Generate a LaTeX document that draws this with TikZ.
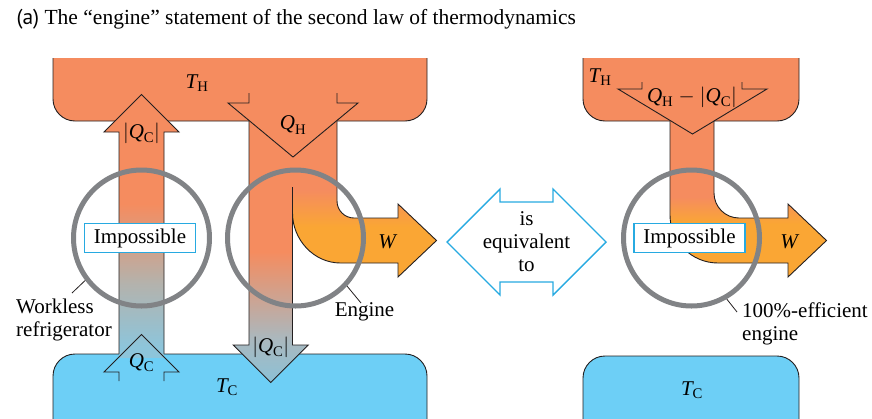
\documentclass[tikz,border=0pt]{standalone}
\usepackage{amsmath}
\usepackage{fontspec}
\setmainfont{Liberation Serif}
\newfontfamily\panelfont{PT Sans}
\usetikzlibrary{positioning}
\definecolor{HotRes}{HTML}{F58C5F}
\definecolor{ColdRes}{HTML}{6DCFF6}
\definecolor{WorkFlow}{HTML}{FAA634}
\definecolor{RingGray}{HTML}{818386}
\definecolor{TagCyan}{HTML}{27AAE1}
\definecolor{EdgeInk}{HTML}{231F20}
\definecolor{FridgeGray}{HTML}{B4B2AC}
\definecolor{FridgeBlue}{HTML}{8DC5DB}
\definecolor{EngineGray}{HTML}{AAB8BE}
\definecolor{EngineBlue}{HTML}{8CC1D6}
% vertical blends for the heat flows (25bp = bottom of path, 75bp = top)
\pgfdeclareverticalshading{fridgeflow}{100bp}{color(0bp)=(FridgeBlue); color(27bp)=(FridgeBlue); color(40bp)=(FridgeGray); color(56bp)=(HotRes); color(100bp)=(HotRes)}
\pgfdeclareverticalshading{coldflow}{100bp}{color(0bp)=(EngineBlue); color(25bp)=(EngineBlue); color(33bp)=(EngineGray); color(49bp)=(HotRes); color(100bp)=(HotRes)}
\pgfdeclareverticalshading{workflow}{100bp}{color(0bp)=(WorkFlow); color(40bp)=(WorkFlow); color(51bp)=(HotRes); color(100bp)=(HotRes)}
\pgfdeclareverticalshading{idealflow}{100bp}{color(0bp)=(WorkFlow); color(41bp)=(WorkFlow); color(49bp)=(HotRes); color(100bp)=(HotRes)}
\newcommand{\qsym}[2]{\ensuremath{\textit{#1}_{\text{#2}}}}
\newcommand{\qabs}[2]{\ensuremath{|\textit{#1}_{\text{#2}}|}}

\begin{document}
\begin{tikzpicture}[
    x=1pt, y=-1pt,
    every node/.style={font=\fontsize{21}{23}\selectfont},
    reservoir/.style={draw=EdgeInk, line width=0.9pt, rounded corners=22pt},
    flowedge/.style={draw=EdgeInk, line width=0.9pt, line join=miter},
    ring/.style={circle, draw=RingGray, line width=5pt, minimum size=136pt, inner sep=0pt},
    tag/.style={draw=TagCyan, fill=white, line width=1.4pt, minimum width=111pt, minimum height=29pt, inner sep=0pt},
    equiv/.style={draw=TagCyan, fill=white, line width=1.4pt, line join=miter},
    leader/.style={draw=EdgeInk, line width=0.8pt},
    notetext/.style={inner sep=0pt, align=left}
  ]
    \useasboundingbox (0,0) rectangle (872,418);
    \node[anchor=base west, font=\fontsize{21.5}{25}\selectfont] (caption) at (13,24)
      {{\panelfont (a)} The “engine” statement of the second law of thermodynamics};

    % reservoirs
    \begin{scope}
      \clip (0,58) rectangle (872,140);
      \filldraw[reservoir, fill=HotRes] (53,20) rectangle (427,121);
      \filldraw[reservoir, fill=HotRes] (583,20) rectangle (799,121);
    \end{scope}
    \filldraw[reservoir, fill=ColdRes] (53,354) rectangle (427,460);
    \filldraw[reservoir, fill=ColdRes] (583,356) rectangle (799,460);

    % workless refrigerator
    \shade[shading=fridgeflow] (119,110) rectangle (164,357);
    \fill[HotRes] (104,132) -- (141.5,94.5) -- (179,132) -- cycle;
    \draw[flowedge] (119,354) -- (119,132) -- (104,132) -- (141.5,94.5) -- (179,132) -- (164,132) -- (164,354);
    \draw[flowedge] (119,381) -- (119,372) -- (104,372) -- (141.5,334.5) -- (179,372) -- (164,372) -- (164,381);

    % engine
    \shade[shading=coldflow] (249,110) -- (297,110) -- (297,190) -- (292.5,190) -- (292.5,345)
      -- (308.25,345) -- (270.75,382.5) -- (233.25,345) -- (249,345) -- cycle;
    \shade[shading=workflow] (292.5,110) -- (337,110) -- (337,201) .. controls (337,210.4) and (344.6,218) .. (354,218)
      -- (398,218) -- (398,204) -- (436.5,240.5) -- (398,277) -- (398,263) -- (340.5,263)
      .. controls (313.8,263) and (292.5,239.7) .. (292.5,213) -- cycle;
    \draw[flowedge] (249,93) -- (249,103) -- (228,103) -- (293,157) -- (358,103) -- (337,103) -- (337,93);
    \draw[flowedge] (249,121) -- (249,345) -- (233.25,345) -- (270.75,382.5) -- (308.25,345) -- (292.5,345) -- (292.5,187);
    \draw[flowedge] (292.5,213) .. controls (292.5,239.7) and (313.8,263) .. (340.5,263) -- (398,263) -- (398,277)
      -- (436.5,240.5) -- (398,204) -- (398,218) -- (354,218) .. controls (344.6,218) and (337,210.4) .. (337,201) -- (337,121);

    % 100%-efficient engine
    \shade[shading=idealflow] (670,110) -- (714,110) -- (714,193) .. controls (714,206.8) and (725.2,218) .. (739,218)
      -- (788,218) -- (788,204) -- (826.5,240.5) -- (788,277) -- (788,263) -- (718,263)
      .. controls (691.5,263) and (670,241.5) .. (670,215) -- cycle;
    \draw[flowedge] (642,82) -- (642,89) -- (618,89) -- (692.5,134) -- (767,89) -- (742,89) -- (742,82);
    \draw[flowedge] (670,121) -- (670,215) .. controls (670,241.5) and (691.5,263) .. (718,263) -- (788,263) -- (788,277)
      -- (826.5,240.5) -- (788,204) -- (788,218) -- (739,218) .. controls (725.2,218) and (714,206.8) .. (714,193) -- (714,121);

    % rings and tags
    \node[ring] (fridgering) at (141.5,238) {};
    \node[ring] (enginering) at (295.5,238) {};
    \node[ring] (idealring) at (691.5,238) {};
    \node[tag] (fridgetag) at (140,238) {Impossible};
    \node[tag] (idealtag) at (689.5,238) {Impossible};

    \coordinate (fridgeend) at (72,293);
    \coordinate (engineend) at (361,303);
    \coordinate (idealend) at (737,312);
    \draw[leader] (fridgering.217) -- (fridgeend);
    \draw[leader] (enginering.317) -- (engineend);
    \draw[leader] (idealring.300) -- (idealend);
    \node[notetext, anchor=north west] (fridgelabel) at (16,299) {Workless\\refrigerator};
    \node (enginelabel) at (364.5,312) {Engine};
    \node[notetext, anchor=north west] (ideallabel) at (742,303) {100\%-efficient\\engine};

    % symbols
    \node (hotleft) at (197,83) {\qsym{T}{H}};
    \node (coldleft) at (227,387) {\qsym{T}{C}};
    \node (qhot) at (293,125) {\qsym{Q}{H}};
    \node (qfridgeup) at (141.5,133) {\qabs{Q}{C}};
    \node (qfridgein) at (141.5,363) {\qsym{Q}{C}};
    \node (qengineout) at (270.75,347) {\qabs{Q}{C}};
    \node (workleft) at (388,242) {\textit{W}};
    \node (hotright) at (600,77) {\qsym{T}{H}};
    \node (coldright) at (692,390) {\qsym{T}{C}};
    \node (qideal) at (692,97) {\qsym{Q}{H} $-$ \qabs{Q}{C}};
    \node (workright) at (790,242) {\textit{W}};

    % equivalence
    \filldraw[equiv] (447,242) -- (500,189) -- (500,202) -- (553,202) -- (553,189) -- (606,242)
      -- (553,295) -- (553,282) -- (500,282) -- (500,295) -- cycle;
    \node[align=center] (equivtext) at (526.5,242) {is\\equivalent\\to};
\end{tikzpicture}
\end{document}
